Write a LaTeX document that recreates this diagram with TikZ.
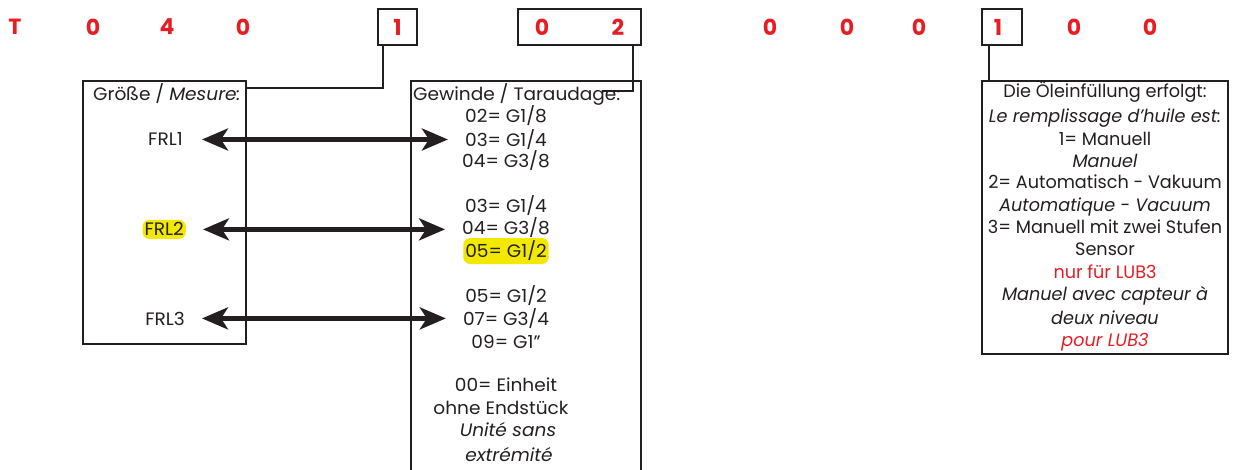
\documentclass[tikz,border=0pt]{standalone}
\usepackage{fontspec}
\setmainfont{Poppins}
\newfontfamily\wideF[FakeStretch=1.03]{Poppins}
\newfontfamily\narrowF[FakeStretch=0.98]{Poppins}
\usetikzlibrary{arrows.meta}
\definecolor{codered}{RGB}{230,30,36}
\definecolor{hl}{RGB}{242,232,0}
\definecolor{ink}{RGB}{35,31,32}
\begin{document}
\begin{tikzpicture}[x=1pt,y=-1pt,
  every node/.style={inner sep=0pt, text=ink},
  ln/.style={anchor=base, font=\wideF\fontsize{18}{20}\selectfont},
  it/.style={ln, font=\wideF\fontsize{18}{20}\selectfont\itshape},
  rln/.style={anchor=base, font=\narrowF\fontsize{18}{20}\selectfont},
  rit/.style={anchor=base, font=\narrowF\fontsize{18}{20}\selectfont\itshape},
  dig/.style={anchor=center, font=\fontsize{22}{24}\selectfont\bfseries, text=codered},
  frame/.style={draw=ink, line width=1.4pt},
  leader/.style={draw=ink, line width=1.4pt},
  dbl/.style={draw=ink, line width=4.5pt, {Stealth[length=26pt,width=22pt,inset=7pt]}-{Stealth[length=26pt,width=22pt,inset=7pt]}},
  hlt/.style={fill=hl, rounded corners=7pt, inner xsep=2pt, inner ysep=3pt}]
\useasboundingbox (0,0) rectangle (1234,470);
\clip (0,0) rectangle (1234,470);
% top code
\node[dig] (d1) at (15,27) {T};
\node[dig] (d2) at (93,27) {0};
\node[dig] (d3) at (167,27) {4};
\node[dig] (d4) at (243,27) {0};
\node[frame, minimum width=39pt, minimum height=36pt] (b1) at (397.5,27) {};
\node[dig] (d5) at (b1) {1};
\node[frame, minimum width=123pt, minimum height=36pt] (b2) at (579.5,27) {};
\node[dig] (d6) at (542,27) {0};
\node[dig] (d7) at (618,27) {2};
\node[dig] (d8) at (770,27) {0};
\node[dig] (d9) at (847,27) {0};
\node[dig] (d10) at (919,27) {0};
\node[frame, minimum width=40pt, minimum height=36pt] (b3) at (1002,27) {};
\node[dig] (d11) at (998,27) {1};
\node[dig] (d12) at (1074,27) {0};
\node[dig] (d13) at (1150,27) {0};
% boxes
\node[frame, minimum width=163pt, minimum height=263pt] (sizebox) at (164.5,212.5) {};
\node[frame, minimum width=230pt, minimum height=420pt] (threadbox) at (526,291) {};
\node[frame, minimum width=246pt, minimum height=273pt] (oilbox) at (1105,217.5) {};
% leaders
\coordinate (l1) at (383,88);
\draw[leader] (b1.south -| l1) -- (l1) -- (l1 -| sizebox.east);
\coordinate (l2a) at (633,91);
\coordinate (l2b) at (602,91);
\draw[leader] (b2.south -| l2a) -- (l2a) -- (l2b);
\coordinate (l3) at (989,0);
\draw[leader] (b3.south -| l3) -- (oilbox.north -| l3);
% size box
\node[ln, anchor=base west] (sizehead) at (93,101) {Größe / \textit{Mesure:}};
\node[ln, anchor=base east] (frl1) at (183,146) {FRL1};
\node[ln, anchor=base east, hlt] (frl2) at (186,236) {FRL2};
\node[ln, anchor=base east] (frl3) at (185,325) {FRL3};
% thread box
\node[ln, anchor=base west] (threadhead) at (413,101) {Gewinde / Taraudage:};
\node[ln] (g1a) at (506,123) {02= G1/8};
\node[ln] (g1b) at (506,147) {03= G1/4};
\node[ln] (g1c) at (506,168) {04= G3/8};
\node[ln] (g2a) at (506,213) {03= G1/4};
\node[ln] (g2b) at (506,235) {04= G3/8};
\node[ln, hlt] (g2c) at (506,258) {05= G1/2};
\node[ln] (g3a) at (506,303) {05= G1/2};
\node[ln] (g3b) at (506,325) {07= G3/4};
\node[ln] (g3c) at (506,348) {09= G1”};
\node[ln] (g4a) at (506,391) {00= Einheit};
\node[ln] (g4b) at (501,414) {ohne Endstück};
\node[it] (g4c) at (508,436) {Unité sans};
\node[it] (g4d) at (509,461) {extrémité};
% arrows
\draw[dbl] ([xshift=19pt]frl1.east) -- ([xshift=-17pt]frl1.east -| g1b.west);
\draw[dbl] ([xshift=17pt]frl2.east) -- ([xshift=-17pt]frl2.east -| g2b.west);
\draw[dbl] ([xshift=17pt]frl3.east) -- ([xshift=-17pt]frl3.east -| g3b.west);
% oil box
\node[rln] (o1) at (1105,98) {Die Öleinfüllung erfolgt:};
\node[rit] (o2) at (1105,123) {Le remplissage d’huile est:};
\node[rln] (o3) at (1105,146) {1= Manuell};
\node[rit] (o4) at (1105,168) {Manuel};
\node[rln] (o5) at (1105,189) {2= Automatisch - Vakuum};
\node[rit] (o6) at (1105,212) {Automatique - Vacuum};
\node[rln] (o7) at (1105,234) {3= Manuell mit zwei Stufen};
\node[rln] (o8) at (1105,256) {Sensor};
\node[rln, text=codered] (o9) at (1105,279) {nur für LUB3};
\node[rit] (o10) at (1105,301) {Manuel avec capteur à};
\node[rit] (o11) at (1105,324) {deux niveau};
\node[rit, text=codered] (o12) at (1105,346) {pour LUB3};
\end{tikzpicture}
\end{document}
